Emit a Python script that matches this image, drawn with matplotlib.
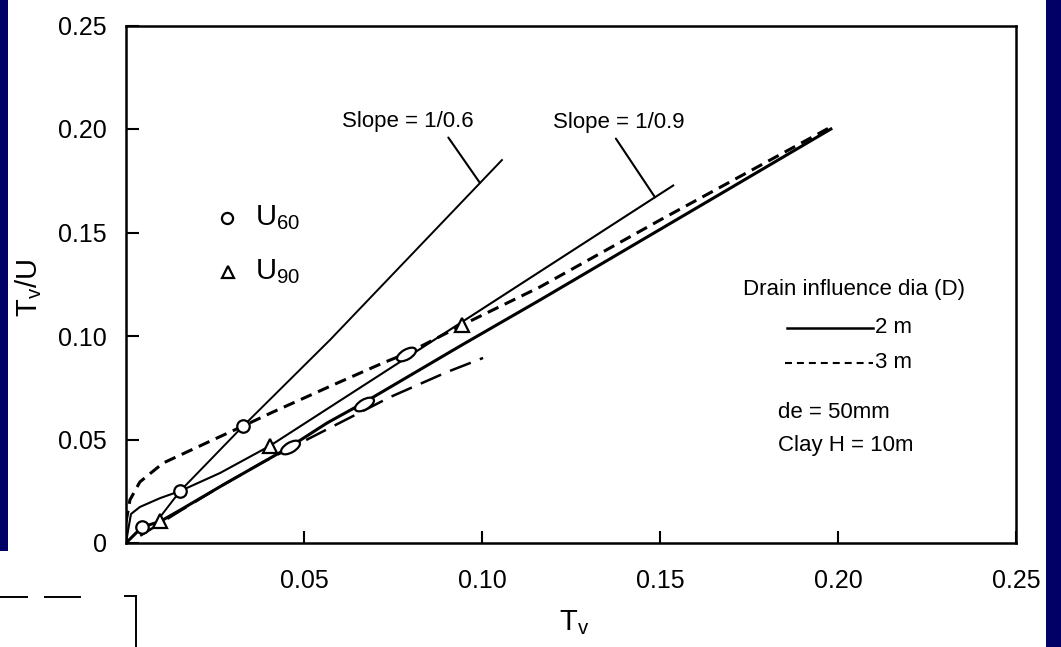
import matplotlib
matplotlib.use('agg')
import matplotlib.pyplot as plt
from matplotlib.lines import Line2D
from matplotlib.markers import MarkerStyle
from matplotlib.patches import Rectangle
from matplotlib.transforms import Affine2D

plt.rcParams['font.family'] = ['Liberation Sans', 'DejaVu Sans']
plt.rcParams['mathtext.fontset'] = 'custom'
plt.rcParams['mathtext.rm'] = 'Liberation Sans'
plt.rcParams['mathtext.it'] = 'Liberation Sans:italic'
plt.rcParams['lines.scale_dashes'] = False

# ---- data (Tv on x, Tv/U on y) ----
# 2 m drain influence diameter, upper (thin) curve -> tangent slope 1/0.9
tv_2m_upper = [0, 0.0006, 0.0014, 0.0039, 0.0096, 0.0152, 0.0264, 0.0404, 0.0944, 0.1537]
tvu_2m_upper = [0, 0.0063, 0.0140, 0.0174, 0.0217, 0.0251, 0.0338, 0.0469, 0.1068, 0.1727]

# 2 m, lower (heavy) curve
tv_2m_lower = [0, 0.0045, 0.0096, 0.0152, 0.0272, 0.0460, 0.0565, 0.0666, 0.0944, 0.1163, 0.1980]
tvu_2m_lower = [0, 0.0077, 0.0104, 0.0159, 0.0280, 0.0464, 0.0580, 0.0676, 0.0957, 0.1174, 0.2000]

# 3 m drain influence diameter, upper dashed curve
tv_3m_upper = [0, 0.0011, 0.0039, 0.0104, 0.0244, 0.0329, 0.0413, 0.0581, 0.0722, 0.0798,
               0.0944, 0.1163, 0.1500, 0.1980]
tvu_3m_upper = [0.0100, 0.0208, 0.0295, 0.0386, 0.0498, 0.0565, 0.0633, 0.0763, 0.0870, 0.0923,
                0.1053, 0.1237, 0.1560, 0.2010]

# 3 m, lower long-dashed curve
tv_3m_lower = [0.004, 0.0152, 0.0272, 0.0385, 0.0742, 0.0902, 0.1003]
tvu_3m_lower = [0.0035, 0.0155, 0.0280, 0.0391, 0.0705, 0.0826, 0.0894]

# straight line of slope 1/0.6
tv_slope06 = [0.0096, 0.0152, 0.0329, 0.0573, 0.1056]
tvu_slope06 = [0.0126, 0.0251, 0.0565, 0.0981, 0.1850]

# measured points
u60_tv = [0.0045, 0.0152, 0.0329]
u60_tvu = [0.0077, 0.0251, 0.0565]
u60_smeared_tv = [0.0460, 0.0669, 0.0787]     # circles squashed by the scan
u60_smeared_tvu = [0.0464, 0.0671, 0.0913]
u90_tv = [0.0096, 0.0404, 0.0944]
u90_tvu = [0.0104, 0.0467, 0.1053]

x_ticks = [0.05, 0.10, 0.15, 0.20, 0.25]
x_ticklabels = ['0.05', '0.10', '0.15', '0.20', '0.25']
y_ticks = [0, 0.05, 0.10, 0.15, 0.20, 0.25]
y_ticklabels = ['0', '0.05', '0.10', '0.15', '0.20', '0.25']

W, H = 1061, 647
navy = '#000066'

fig = plt.figure(figsize=(W / 100, H / 100), dpi=100)
ax = fig.add_axes([126 / W, 104 / H, 890 / W, 517.5 / H])
ax.set_xlim(0, 0.25)
ax.set_ylim(0, 0.25)

# curves
ax.plot(tv_2m_upper, tvu_2m_upper, '-', color='black', lw=1.5)
ax.plot(tv_2m_lower, tvu_2m_lower, '-', color='black', lw=2.2)
ax.plot(tv_3m_upper, tvu_3m_upper, color='black', lw=2.2, dashes=(8.5, 5))
ax.plot(tv_3m_lower, tvu_3m_lower, color='black', lw=1.8, dashes=(16, 7))
ax.plot(tv_slope06, tvu_slope06, '-', color='black', lw=1.4)

# points
ax.plot(u60_tv, u60_tvu, 'o', ms=9, mfc='white', mec='black', mew=1.6)
oval = MarkerStyle('o', transform=Affine2D().scale(1.9, 0.9).rotate_deg(30))
ax.plot(u60_smeared_tv, u60_smeared_tvu, linestyle='none', marker=oval, ms=8,
        mfc='white', mec='black', mew=1.6)
ax.plot(u90_tv, u90_tvu, '^', ms=10, mfc='white', mec='black', mew=1.6)

# slope annotations
ax.annotate('Slope = 1/0.6', xy=(0.0994, 0.174), xytext=(0.0792, 0.2034),
            ha='center', va='center', fontsize=16,
            arrowprops=dict(arrowstyle='-', lw=1.5, color='black', relpos=(0.78, 0.0),
                            shrinkA=2, shrinkB=0))
ax.annotate('Slope = 1/0.9', xy=(0.1486, 0.167), xytext=(0.1385, 0.2029),
            ha='center', va='center', fontsize=16,
            arrowprops=dict(arrowstyle='-', lw=1.5, color='black', relpos=(0.45, 0.0),
                            shrinkA=2, shrinkB=0))

# point legend (upper left)
ax.plot([0.1135], [0.628], 'o', ms=8, mfc='white', mec='black', mew=1.6,
        transform=ax.transAxes, clip_on=False)
ax.plot([0.1146], [0.524], '^', ms=9, mfc='white', mec='black', mew=1.6,
        transform=ax.transAxes, clip_on=False)
ax.text(0.145, 0.628, 'U$_{60}$', transform=ax.transAxes, fontsize=21, va='center', ha='left')
ax.text(0.145, 0.524, 'U$_{90}$', transform=ax.transAxes, fontsize=21, va='center', ha='left')

# line legend (right)
ax.text(0.693, 0.489, 'Drain influence dia (D)', transform=ax.transAxes,
        fontsize=16, va='center', ha='left')
ax.add_line(Line2D([0.743, 0.839], [0.4155, 0.4155], transform=ax.transAxes,
                   color='black', lw=1.8))
ax.text(0.842, 0.4155, '2 m', transform=ax.transAxes, fontsize=16, va='center', ha='left')
ax.add_line(Line2D([0.740, 0.839], [0.348, 0.348], transform=ax.transAxes,
                   color='black', lw=1.5, dashes=(5, 3.6)))
ax.text(0.842, 0.348, '3 m', transform=ax.transAxes, fontsize=16, va='center', ha='left')
ax.text(0.733, 0.253, 'de = 50mm', transform=ax.transAxes, fontsize=16, va='center', ha='left')
ax.text(0.733, 0.189, 'Clay H = 10m', transform=ax.transAxes, fontsize=16, va='center', ha='left')

# axes styling
for s in ax.spines.values():
    s.set_linewidth(1.8)
ax.set_xticks(x_ticks)
ax.set_xticklabels(x_ticklabels)
ax.set_yticks(y_ticks)
ax.set_yticklabels(y_ticklabels)
ax.tick_params(direction='in', length=9, width=1.5, labelsize=18)
ax.tick_params(axis='y', pad=14)
ax.tick_params(axis='x', pad=19)

ax.set_xlabel('T$_\\mathregular{v}$', fontsize=21)
ax.xaxis.set_label_coords(0.504, -0.126)
ax.set_ylabel('T$_\\mathregular{v}$/U', fontsize=21)
ax.yaxis.set_label_coords(-0.092, 0.493)

# dark blue slide border around the scan
fig.add_artist(Rectangle((0, 96 / H), 8 / W, 1 - 96 / H, transform=fig.transFigure,
                         color=navy, lw=0))
fig.add_artist(Rectangle((1046 / W, 0), 15 / W, 1, transform=fig.transFigure,
                         color=navy, lw=0))

# scan debris bottom-left
for xs, ys in [([0, 27], [597, 597]), ([45, 80], [597, 597]),
               ([125, 136], [596, 596]), ([136, 136], [596, 647])]:
    fig.add_artist(Line2D([x / W for x in xs], [1 - y / H for y in ys],
                          transform=fig.transFigure, color='black', lw=1.4))

fig.savefig('out.png', dpi=100)
